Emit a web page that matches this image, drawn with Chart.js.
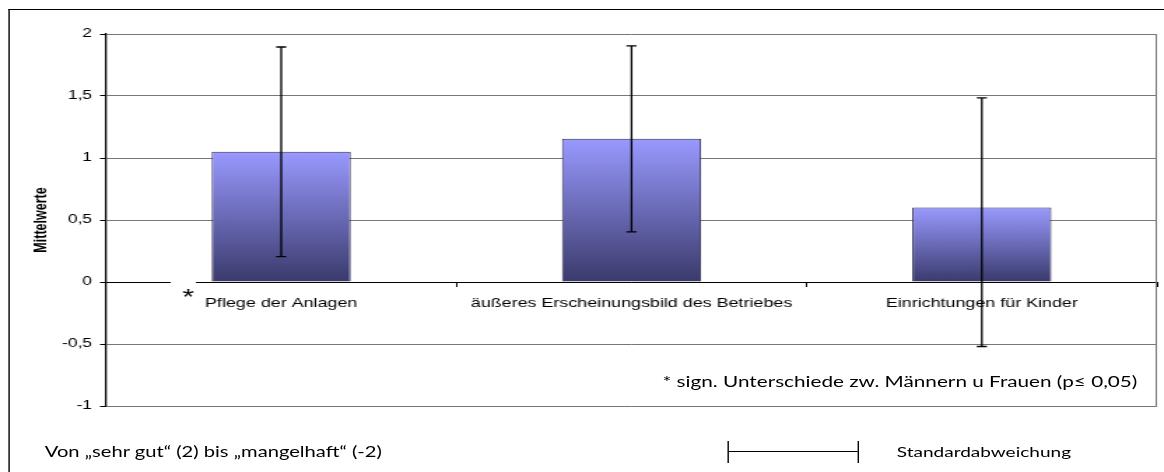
<!DOCTYPE html>
<html lang="de">

<head>
  <meta charset="UTF-8">
  <title>Mittelwerte</title>
  <script src="https://cdn.jsdelivr.net/npm/chart.js"></script>
  <style>
    body {
      margin: 0;
      background: #fff;
      overflow: hidden;
    }

    /* the source picture is stretched sideways, so the whole drawing is too */
    #wrap {
      position: absolute;
      left: 0;
      top: 0;
      width: 832px;
      height: 472px;
      transform: scaleX(1.399);
      transform-origin: 0 0;
    }

    #frame {
      position: absolute;
      left: 6px;
      top: 9px;
      width: 900px;
      height: 500px;
      border-left: 1.5px solid #000;
      border-top: 1.5px solid #000;
    }

    canvas {
      position: absolute;
      left: 0;
      top: 0;
    }

    .txt {
      position: absolute;
      font-family: Lato, "Open Sans", sans-serif;
      font-size: 14.8px;
      line-height: 20px;
      color: #000;
      white-space: nowrap;
    }

    #sdKey {
      position: absolute;
      left: 520px;
      top: 441px;
      width: 92px;
      height: 22px;
      border-left: 1px solid #000;
      border-right: 1px solid #000;
    }

    #sdKey::after {
      content: "";
      position: absolute;
      left: 0;
      right: 0;
      top: 10px;
      border-top: 1px solid #000;
    }
  </style>
</head>

<body>
  <div id="wrap">
    <div id="frame"></div>
    <canvas id="meanChart" width="832" height="472"></canvas>
    <div class="txt" style="right:19px; top:371px;">* sign. Unterschiede zw. Männern u Frauen (p≤ 0,05)</div>
    <div class="txt" style="left:32px; top:442px; font-size:14.4px;">Von „sehr gut“ (2) bis „mangelhaft“ (-2)</div>
    <div id="sdKey"></div>
    <div class="txt" style="left:641px; top:442px; font-size:13.6px;">Standardabweichung</div>
  </div>

  <script>
    // values
    const categories = ['Pflege der Anlagen', 'äußeres Erscheinungsbild des Betriebes', 'Einrichtungen für Kinder'];
    const means = [1.05, 1.155, 0.6];
    const sdHigh = [1.895, 1.905, 1.485];
    const sdLow = [0.205, 0.405, -0.52];
    const yTicks = [-1, -0.5, 0, 0.5, 1, 1.5, 2];

    Chart.defaults.font.family = '"Liberation Sans", Arial, sans-serif';
    Chart.defaults.color = '#000';

    // gradient per bar, light on top, dark at the zero line
    function barFill(ctx) {
      const chart = ctx.chart;
      if (!chart.chartArea || ctx.type !== 'data') return '#9999ff';
      const y = chart.scales.y;
      const top = y.getPixelForValue(ctx.raw);
      const bottom = y.getPixelForValue(0);
      const g = chart.ctx.createLinearGradient(0, top, 0, bottom);
      g.addColorStop(0, '#9999ff');
      g.addColorStop(1, '#3a3a6c');
      return g;
    }

    // standard deviation whiskers
    const errorBars = {
      id: 'errorBars',
      afterDatasetsDraw(chart) {
        const ctx = chart.ctx;
        const y = chart.scales.y;
        const bars = chart.getDatasetMeta(0).data;
        ctx.save();
        ctx.strokeStyle = '#000';
        ctx.lineWidth = 1.3;
        bars.forEach((bar, i) => {
          const top = y.getPixelForValue(sdHigh[i]);
          const bottom = y.getPixelForValue(sdLow[i]);
          ctx.beginPath();
          ctx.moveTo(bar.x, top);
          ctx.lineTo(bar.x, bottom);
          ctx.moveTo(bar.x - 3.6, top);
          ctx.lineTo(bar.x + 3.6, top);
          ctx.moveTo(bar.x - 3.6, bottom);
          ctx.lineTo(bar.x + 3.6, bottom);
          ctx.stroke();
        });
        ctx.restore();
      }
    };

    // right edge of the plot box and the significance star
    const extras = {
      id: 'extras',
      afterDraw(chart) {
        const ctx = chart.ctx;
        const a = chart.chartArea;
        ctx.save();
        ctx.strokeStyle = '#777';
        ctx.lineWidth = 1;
        ctx.beginPath();
        ctx.moveTo(a.right - 0.5, a.top);
        ctx.lineTo(a.right - 0.5, a.bottom);
        ctx.stroke();

        const zero = chart.scales.y.getPixelForValue(0);
        ctx.fillStyle = '#fff';
        ctx.fillRect(122, zero - 2, 18, 22);
        ctx.fillStyle = '#000';
        ctx.font = '22px "Liberation Sans", Arial, sans-serif';
        ctx.textAlign = 'center';
        ctx.textBaseline = 'alphabetic';
        ctx.fillText('*', 134.5, zero + 22);
        ctx.restore();
      }
    };

    new Chart(document.getElementById('meanChart'), {
      type: 'bar',
      data: {
        labels: categories,
        datasets: [{
          data: means,
          backgroundColor: barFill,
          borderColor: '#2c2c50',
          borderWidth: 1,
          categoryPercentage: 1,
          barPercentage: 0.397
        }]
      },
      options: {
        responsive: false,
        animation: false,
        layout: {
          padding: { left: 7, right: 5, top: 34, bottom: 66 }
        },
        plugins: {
          legend: { display: false },
          tooltip: { enabled: false }
        },
        scales: {
          x: {
            position: { y: 0 },
            grid: {
              offset: true,
              drawOnChartArea: false,
              tickLength: 4,
              tickColor: '#000'
            },
            border: { color: '#000', width: 1 },
            ticks: {
              font: { size: 12.8 },
              padding: 10,
              maxRotation: 0,
              autoSkip: false
            }
          },
          y: {
            min: -1,
            max: 2,
            afterBuildTicks(scale) {
              scale.ticks = yTicks.map(v => ({ value: v }));
            },
            afterFit(scale) {
              scale.width = 68.8;
            },
            grid: {
              color: '#777',
              lineWidth: 1,
              tickLength: 4.3,
              tickColor: '#000'
            },
            border: { color: '#000', width: 1.3 },
            ticks: {
              font: { size: 12.5 },
              padding: 5.7,
              callback: v => String(v).replace('.', ',')
            },
            title: {
              display: true,
              text: 'Mittelwerte',
              font: { size: 12.5, weight: 'bold' },
              padding: { top: 15.5, bottom: 0 }
            }
          }
        }
      },
      plugins: [errorBars, extras]
    });
  </script>
</body>

</html>
